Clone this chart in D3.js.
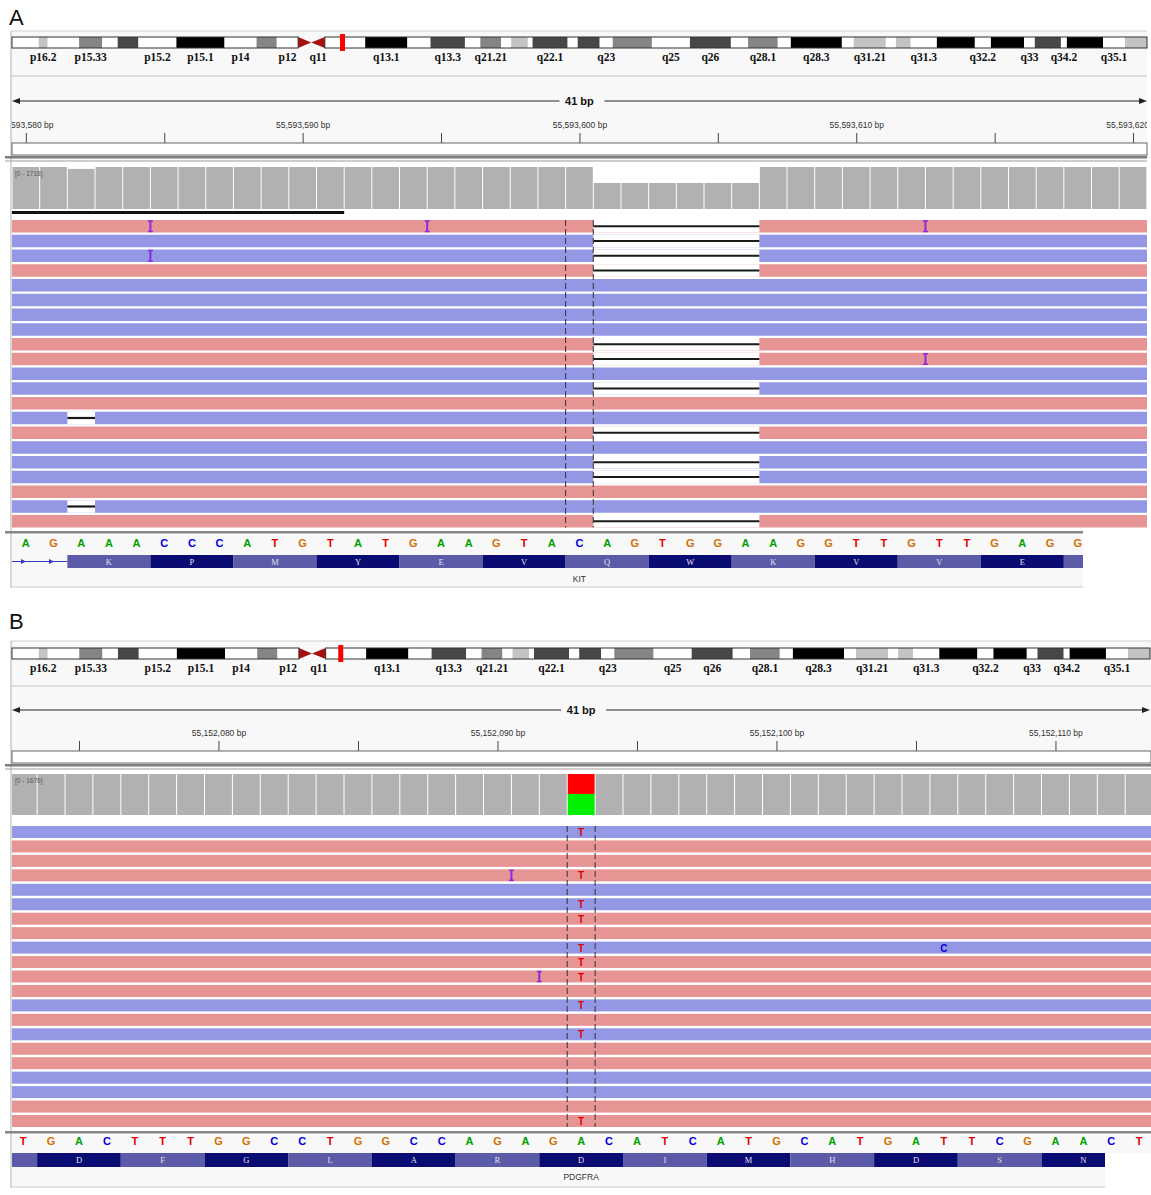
<!DOCTYPE html>
<html>
<head>
<meta charset="utf-8">
<script src="https://cdn.jsdelivr.net/npm/d3@7"></script>
<style>
  body { margin: 0; background: #fff; }
  text { font-family: "Liberation Sans", Arial, sans-serif; }
</style>
</head>
<body>
<svg id="chart" width="1151" height="1195"></svg>
<script>
// ---------- shared data ----------
const chr4Length = 191.2; // Mb
// [startMb, endMb, stain, label]
const chr4Bands = [
  [0, 4.5, "gneg", ""], [4.5, 6.0, "gpos25", "p16.2"], [6.0, 11.3, "gneg", ""],
  [11.3, 15.2, "gpos50", "p15.33"], [15.2, 17.8, "gneg", ""], [17.8, 21.3, "gpos75", ""],
  [21.3, 27.7, "gneg", "p15.2"], [27.7, 35.8, "gpos100", "p15.1"], [35.8, 41.2, "gneg", "p14"],
  [41.2, 44.6, "gpos50", ""], [44.6, 48.2, "gneg", "p12"], [48.2, 50.4, "acen", ""],
  [50.4, 52.7, "acen", "q11"], [52.7, 59.5, "gneg", ""], [59.5, 66.6, "gpos100", "q13.1"],
  [66.6, 70.5, "gneg", ""], [70.5, 76.3, "gpos75", "q13.3"], [76.3, 78.9, "gneg", ""],
  [78.9, 82.4, "gpos50", "q21.21"], [82.4, 84.1, "gneg", ""], [84.1, 86.9, "gpos25", ""],
  [86.9, 87.7, "gneg", ""], [87.7, 93.6, "gpos75", "q22.1"], [93.6, 95.3, "gneg", ""],
  [95.3, 99.0, "gpos75", ""], [99.0, 101.2, "gneg", "q23"], [101.2, 107.8, "gpos50", ""],
  [107.8, 114.2, "gneg", "q25"], [114.2, 121.1, "gpos75", "q26"], [121.1, 124.0, "gneg", ""],
  [124.0, 129.0, "gpos50", "q28.1"], [129.0, 131.2, "gneg", ""], [131.2, 139.8, "gpos100", "q28.3"],
  [139.8, 141.8, "gneg", ""], [141.8, 147.2, "gpos25", "q31.21"], [147.2, 148.9, "gneg", ""],
  [148.9, 151.4, "gpos25", ""], [151.4, 155.8, "gneg", "q31.3"], [155.8, 162.2, "gpos100", ""],
  [162.2, 164.9, "gneg", "q32.2"], [164.9, 170.5, "gpos100", ""], [170.5, 172.3, "gneg", "q33"],
  [172.3, 176.7, "gpos75", ""], [176.7, 177.7, "gneg", "q34.2"], [177.7, 183.8, "gpos100", ""],
  [183.8, 187.5, "gneg", "q35.1"], [187.5, 191.2, "gpos25", ""]
];
const stainFill = { gneg: "#ffffff", gpos25: "#c4c4c4", gpos50: "#858585", gpos75: "#474747", gpos100: "#000000", acen: "#a81010" };
const baseColors = { A: "#00a000", C: "#0000dd", G: "#d17105", T: "#e00000" };

// ---------- panel A (KIT) ----------
const viewStartA = 55593579.5;
const firstBaseA = 55593580;
const centerBaseA = 55593600;
const rulerTicksA = [55593580, 55593585, 55593590, 55593595, 55593600, 55593605, 55593610, 55593615, 55593620];
const seqA = "AGAAACCCATGTATGAAGTACAGTGGAAGGTTGTTGAGG".split("");
const aminoA = ["K", "P", "M", "Y", "E", "V", "Q", "W", "K", "V", "V", "E", ""];
const aminoStartA = 2;
const coverageA = [1718, 1718, 1640, 1718, 1718, 1718, 1718, 1718, 1718, 1718,
  1718, 1718, 1718, 1718, 1718, 1718, 1718, 1718, 1718, 1718,
  1718, 1065, 1065, 1065, 1065, 1065, 1065, 1718, 1718, 1718,
  1718, 1718, 1718, 1718, 1718, 1718, 1718, 1718, 1718, 1718, 1718];
const strandA = ["+", "-", "-", "+", "-", "-", "-", "-", "+", "+", "-", "-", "+", "-", "+", "-", "-", "-", "+", "-", "+"];
// [row, base index, length]
const deletionsA = [[0, 21, 6], [1, 21, 6], [2, 21, 6], [3, 21, 6], [8, 21, 6], [9, 21, 6], [11, 21, 6],
  [13, 2, 1], [14, 21, 6], [16, 21, 6], [17, 21, 6], [19, 2, 1], [20, 21, 6]];
// [row, base index (insertion before it)]
const insertionsA = [[0, 5], [0, 15], [0, 33], [2, 5], [9, 33]];
const mismatchesA = [];
const downsampledA = [0, 11];

// ---------- panel B (PDGFRA) ----------
const viewStartB = 55152072.6;
const firstBaseB = 55152073;
const centerBaseB = 55152093;
const rulerTicksB = [55152075, 55152080, 55152085, 55152090, 55152095, 55152100, 55152105, 55152110];
const seqB = "TGACTTTGGCCTGGCCAGAGACATCATGCATGATTCGAACT".split("");
const aminoB = ["", "D", "F", "G", "L", "A", "R", "D", "I", "M", "H", "D", "S", "N"];
const aminoStartB = -2;
const coverageB = [1676, 1676, 1676, 1676, 1676, 1676, 1676, 1676, 1676, 1676,
  1676, 1676, 1676, 1676, 1676, 1676, 1676, 1676, 1676, 1676,
  1676, 1676, 1676, 1676, 1676, 1676, 1676, 1676, 1676, 1676,
  1676, 1676, 1676, 1676, 1676, 1676, 1676, 1676, 1676, 1676, 1676];
const alleleB = [{ index: 20, A: 860, T: 816 }];
const strandB = ["-", "+", "+", "+", "-", "-", "+", "+", "-", "+", "+", "+", "-", "+", "-", "+", "+", "-", "-", "+", "+"];
const deletionsB = [];
const insertionsB = [[3, 18], [10, 19]];
// [row, base index, base]
const mismatchesB = [[0, 20, "T"], [3, 20, "T"], [5, 20, "T"], [6, 20, "T"], [8, 20, "T"], [8, 33, "C"],
  [9, 20, "T"], [10, 20, "T"], [12, 20, "T"], [14, 20, "T"], [20, 20, "T"]];

// ---------- layout ----------
const panels = [
  {
    id: "A", letterY: 25, top: 31, ideoY: 37, labelY: 61, sepY: 76, arrowY: 101, tickBot: 143,
    boxBot: 155, thickY: 157, thinY: 161, covTop: 167, covBot: 209, readsTop: 220, pitch: 14.75, readH: 12.5,
    seqSep: 531, seqY: 547, geneTop: 555, geneBot: 568, geneLabelY: 582, bottom: 587,
    left: 12, right: 1147, ideoRight: 1147, pxPerBp: 27.68, seqRight: 1083, geneRight: 1083, intron: true,
    viewStart: viewStartA, firstBase: firstBaseA, centerBase: centerBaseA, ticks: rulerTicksA,
    seq: seqA, amino: aminoA, aminoStart: aminoStartA, coverage: coverageA, alleles: [], covMax: 1718,
    strand: strandA, deletions: deletionsA, insertions: insertionsA, mismatches: mismatchesA,
    downsampled: downsampledA, gene: "KIT"
  },
  {
    id: "B", letterY: 629, top: 641, ideoY: 648, labelY: 672, sepY: 686, arrowY: 710, tickBot: 751,
    boxBot: 763, thickY: 765, thinY: 769, covTop: 774, covBot: 815, readsTop: 826, pitch: 14.45, readH: 12,
    seqSep: 1131, seqY: 1145, geneTop: 1153, geneBot: 1167, geneLabelY: 1180, bottom: 1187,
    left: 12, right: 1151, ideoRight: 1150, pxPerBp: 27.9, seqRight: 1151, geneRight: 1105, intron: false,
    viewStart: viewStartB, firstBase: firstBaseB, centerBase: centerBaseB, ticks: rulerTicksB,
    seq: seqB, amino: aminoB, aminoStart: aminoStartB, coverage: coverageB, alleles: alleleB, covMax: 1676,
    strand: strandB, deletions: deletionsB, insertions: insertionsB, mismatches: mismatchesB,
    downsampled: null, gene: "PDGFRA"
  }
];

const svg = d3.select("#chart");
const defs = svg.append("defs");

function drawPanel(P) {
  const g = svg.append("g").attr("id", "panel_" + P.id);
  const x = d3.scaleLinear().domain([P.viewStart, P.viewStart + 41]).range([P.left, P.left + 41 * P.pxPerBp]);
  const cell = i => [x(P.firstBase + i - 0.5), x(P.firstBase + i + 0.5)];

  defs.append("clipPath").attr("id", "clip_" + P.id)
    .append("rect").attr("x", P.left).attr("y", 0).attr("width", P.right - P.left).attr("height", 1195);
  defs.append("clipPath").attr("id", "clipseq_" + P.id)
    .append("rect").attr("x", P.left).attr("y", 0).attr("width", P.seqRight - P.left).attr("height", 1195);
  defs.append("clipPath").attr("id", "clipgene_" + P.id)
    .append("rect").attr("x", P.left).attr("y", 0).attr("width", P.geneRight - P.left).attr("height", 1195);

  // panel letter
  g.append("text").attr("x", 9).attr("y", P.letterY).text(P.id)
    .style("font-size", "22px").style("fill", "#111");

  // header background + left border
  g.append("rect").attr("x", 11).attr("y", P.top).attr("width", P.right - 11).attr("height", P.thinY - P.top)
    .attr("fill", "#f8f8f8");
  g.append("line").attr("x1", 11).attr("x2", P.right).attr("y1", P.top).attr("y2", P.top)
    .attr("stroke", "#d0d0d0");
  g.append("line").attr("x1", 11).attr("x2", 11).attr("y1", P.top).attr("y2", P.bottom + 1)
    .attr("stroke", "#b0b0b0");

  // ideogram
  const mb = d3.scaleLinear().domain([0, chr4Length]).range([P.left, P.ideoRight]);
  const ideoH = 11;
  const ideo = g.append("g");
  chr4Bands.filter(b => b[2] !== "acen").forEach(b => {
    ideo.append("rect").attr("x", mb(b[0])).attr("y", P.ideoY)
      .attr("width", mb(b[1]) - mb(b[0])).attr("height", ideoH).attr("fill", stainFill[b[2]]);
  });
  const acen = chr4Bands.filter(b => b[2] === "acen");
  const mid = P.ideoY + ideoH / 2;
  ideo.append("polygon").attr("fill", stainFill.acen)
    .attr("points", [[mb(acen[0][0]), P.ideoY], [mb(acen[0][1]), mid], [mb(acen[0][0]), P.ideoY + ideoH]].join(" "));
  ideo.append("polygon").attr("fill", stainFill.acen)
    .attr("points", [[mb(acen[1][1]), P.ideoY], [mb(acen[1][0]), mid], [mb(acen[1][1]), P.ideoY + ideoH]].join(" "));
  [[0, acen[0][0]], [acen[1][1], chr4Length]].forEach(arm => {
    ideo.append("rect").attr("x", mb(arm[0])).attr("y", P.ideoY)
      .attr("width", mb(arm[1]) - mb(arm[0])).attr("height", ideoH)
      .attr("fill", "none").attr("stroke", "#333").attr("stroke-width", 1);
  });
  ideo.selectAll("text.band").data(chr4Bands.filter(b => b[3] !== "")).enter().append("text")
    .attr("class", "band")
    .attr("x", d => mb((d[0] + d[1]) / 2)).attr("y", P.labelY)
    .attr("text-anchor", "middle")
    .style("font-family", "'Liberation Serif', 'Times New Roman', serif")
    .style("font-weight", "bold").style("font-size", "11.5px").style("fill", "#111")
    .text(d => d[3]);
  ideo.append("rect").attr("x", mb(P.viewStart / 1e6) - 2).attr("y", P.ideoY - 3)
    .attr("width", 5).attr("height", ideoH + 6).attr("fill", "#ff0000");

  g.append("line").attr("x1", 11).attr("x2", P.right).attr("y1", P.sepY).attr("y2", P.sepY)
    .attr("stroke", "#d4d4d4").attr("stroke-width", 1.5);

  // span arrow
  const xl = P.left, xr = P.ideoRight, xm = x(P.centerBase);
  g.append("line").attr("x1", xl + 5).attr("x2", xm - 20).attr("y1", P.arrowY).attr("y2", P.arrowY).attr("stroke", "#222");
  g.append("line").attr("x1", xm + 25).attr("x2", xr - 5).attr("y1", P.arrowY).attr("y2", P.arrowY).attr("stroke", "#222");
  g.append("polygon").attr("fill", "#222")
    .attr("points", [[xl, P.arrowY], [xl + 8, P.arrowY - 3], [xl + 8, P.arrowY + 3]].join(" "));
  g.append("polygon").attr("fill", "#222")
    .attr("points", [[xr, P.arrowY], [xr - 8, P.arrowY - 3], [xr - 8, P.arrowY + 3]].join(" "));
  g.append("text").attr("x", xm).attr("y", P.arrowY + 4).attr("text-anchor", "middle")
    .style("font-weight", "bold").style("font-size", "11px").style("fill", "#111").text("41 bp");

  // ruler axis
  const axis = d3.axisTop(x).tickValues(P.ticks).tickSize(10).tickSizeOuter(0).tickPadding(5)
    .tickFormat(d => d % 10 === 0 ? d3.format(",")(d) + " bp" : "");
  const ax = g.append("g").attr("clip-path", "url(#clip_" + P.id + ")")
    .append("g").attr("transform", "translate(0," + P.tickBot + ")").call(axis);
  ax.select(".domain").remove();
  ax.selectAll("line").attr("stroke", "#444");
  ax.selectAll("text").style("font-size", "8.5px").style("fill", "#333")
    .style("font-family", "'Liberation Sans', Arial, sans-serif");

  g.append("rect").attr("x", P.left).attr("y", P.tickBot).attr("width", P.right - P.left)
    .attr("height", P.boxBot - P.tickBot).attr("fill", "#fff").attr("stroke", "#666").attr("stroke-width", 1);
  g.append("rect").attr("x", 5).attr("y", P.thickY - 1).attr("width", P.right - 5).attr("height", 2.5).attr("fill", "#7d7d7d");
  g.append("line").attr("x1", 5).attr("x2", P.right).attr("y1", P.thinY).attr("y2", P.thinY).attr("stroke", "#a0a0a0");

  // data track background
  g.append("rect").attr("x", P.left).attr("y", P.thinY + 1).attr("width", P.right - P.left)
    .attr("height", P.seqSep - P.thinY - 1).attr("fill", "#ffffff");

  // coverage
  const cy = d3.scaleLinear().domain([0, P.covMax]).range([P.covBot, P.covTop]);
  const cov = g.append("g").attr("clip-path", "url(#clip_" + P.id + ")");
  P.coverage.forEach((c, i) => {
    const [x0, x1] = cell(i);
    const al = P.alleles.find(a => a.index === i);
    if (al) {
      cov.append("rect").attr("x", x0 + 0.5).attr("width", x1 - x0 - 1)
        .attr("y", cy(al.A)).attr("height", P.covBot - cy(al.A)).attr("fill", "#00f000");
      cov.append("rect").attr("x", x0 + 0.5).attr("width", x1 - x0 - 1)
        .attr("y", cy(al.A + al.T)).attr("height", cy(al.A) - cy(al.A + al.T)).attr("fill", "#ff0000");
    } else {
      cov.append("rect").attr("x", x0 + 0.5).attr("width", x1 - x0 - 1)
        .attr("y", cy(c)).attr("height", P.covBot - cy(c)).attr("fill", "#b1b1b1");
    }
  });
  g.append("text").attr("x", P.left + 3).attr("y", P.covTop + 9)
    .style("font-size", "6.5px").style("fill", "#555").text("[0 - " + P.covMax + "]");

  if (P.downsampled) {
    g.append("rect").attr("x", P.left).attr("y", P.covBot + 2)
      .attr("width", cell(P.downsampled[1])[1] - P.left).attr("height", 3).attr("fill", "#111");
  }

  // reads
  const reads = g.append("g").attr("clip-path", "url(#clip_" + P.id + ")");
  const rowY = r => P.readsTop + r * P.pitch;
  P.strand.forEach((s, r) => {
    reads.append("rect").attr("x", P.left).attr("y", rowY(r))
      .attr("width", P.right - P.left).attr("height", P.readH)
      .attr("fill", s === "+" ? "#e69494" : "#9397e4");
  });
  P.deletions.forEach(([r, b, len]) => {
    const x0 = cell(b)[0], x1 = cell(b + len - 1)[1];
    reads.append("rect").attr("x", x0).attr("y", rowY(r)).attr("width", x1 - x0).attr("height", P.readH).attr("fill", "#fff");
    reads.append("line").attr("x1", x0).attr("x2", x1)
      .attr("y1", rowY(r) + P.readH / 2).attr("y2", rowY(r) + P.readH / 2)
      .attr("stroke", "#1a1a1a").attr("stroke-width", 2.2);
  });
  const nRows = P.strand.length;
  const readsBot = rowY(nRows - 1) + P.readH;
  cell(P.centerBase - P.firstBase).forEach(cx => {
    reads.append("line").attr("x1", cx).attr("x2", cx).attr("y1", P.readsTop).attr("y2", readsBot)
      .attr("stroke", "#333").attr("stroke-width", 1).attr("stroke-dasharray", "6,3");
  });
  P.insertions.forEach(([r, b]) => {
    const ix = cell(b)[0], y0 = rowY(r) + 1, y1 = rowY(r) + P.readH - 1;
    reads.append("line").attr("x1", ix).attr("x2", ix).attr("y1", y0).attr("y2", y1)
      .attr("stroke", "#8a2be2").attr("stroke-width", 2);
    [y0, y1].forEach(yy => reads.append("line").attr("x1", ix - 2.5).attr("x2", ix + 2.5)
      .attr("y1", yy).attr("y2", yy).attr("stroke", "#8a2be2").attr("stroke-width", 1.5));
  });
  P.mismatches.forEach(([r, b, base]) => {
    const [x0, x1] = cell(b);
    reads.append("text").attr("x", (x0 + x1) / 2).attr("y", rowY(r) + P.readH / 2 + 4)
      .attr("text-anchor", "middle").style("font-weight", "bold").style("font-size", "10px")
      .style("fill", baseColors[base]).text(base);
  });

  // sequence track
  g.append("rect").attr("x", 5).attr("y", P.seqSep).attr("width", P.seqRight - 5).attr("height", 2.5).attr("fill", "#858585");
  const seqG = g.append("g").attr("clip-path", "url(#clipseq_" + P.id + ")");
  seqG.append("rect").attr("x", P.left).attr("y", P.seqSep + 3).attr("width", P.seqRight - P.left)
    .attr("height", P.geneTop - P.seqSep - 3).attr("fill", "#f8f8f8");
  P.seq.forEach((base, i) => {
    const [x0, x1] = cell(i);
    seqG.append("text").attr("x", (x0 + x1) / 2).attr("y", P.seqY).attr("text-anchor", "middle")
      .style("font-weight", "bold").style("font-size", "11px").style("fill", baseColors[base]).text(base);
  });

  // gene track
  const gene = g.append("g").attr("clip-path", "url(#clipgene_" + P.id + ")");
  gene.append("rect").attr("x", P.left).attr("y", P.geneTop).attr("width", P.geneRight - P.left)
    .attr("height", P.bottom - P.geneTop).attr("fill", "#f8f8f8");
  const gMid = (P.geneTop + P.geneBot) / 2;
  if (P.intron) {
    const exStart = cell(P.aminoStart)[0];
    gene.append("line").attr("x1", P.left).attr("x2", exStart).attr("y1", gMid).attr("y2", gMid)
      .attr("stroke", "#3a3ac0").attr("stroke-width", 1.2);
    [P.left + 10, P.left + 38].forEach(ax0 => {
      gene.append("polygon").attr("fill", "#3a3ac0")
        .attr("points", [[ax0 + 4, gMid], [ax0 - 1, gMid - 2.5], [ax0 - 1, gMid + 2.5]].join(" "));
    });
  }
  P.amino.forEach((aa, k) => {
    const b0 = P.aminoStart + 3 * k;
    const x0 = cell(b0)[0], x1 = cell(b0 + 2)[1];
    gene.append("rect").attr("x", x0).attr("y", P.geneTop).attr("width", x1 - x0)
      .attr("height", P.geneBot - P.geneTop).attr("fill", k % 2 === 0 ? "#5b5ba8" : "#0b0b74");
    if (aa) {
      gene.append("text").attr("x", (x0 + x1) / 2).attr("y", gMid + 3).attr("text-anchor", "middle")
        .style("font-family", "'Liberation Serif', serif").style("font-size", "8.5px")
        .style("fill", "#e0e0ee").text(aa);
    }
  });
  gene.append("text").attr("x", x(P.centerBase)).attr("y", P.geneLabelY).attr("text-anchor", "middle")
    .style("font-size", "8.5px").style("fill", "#333").text(P.gene);
  g.append("line").attr("x1", P.left).attr("x2", P.geneRight).attr("y1", P.bottom).attr("y2", P.bottom)
    .attr("stroke", "#c8c8c8");
}

panels.forEach(drawPanel);
</script>
</body>
</html>
